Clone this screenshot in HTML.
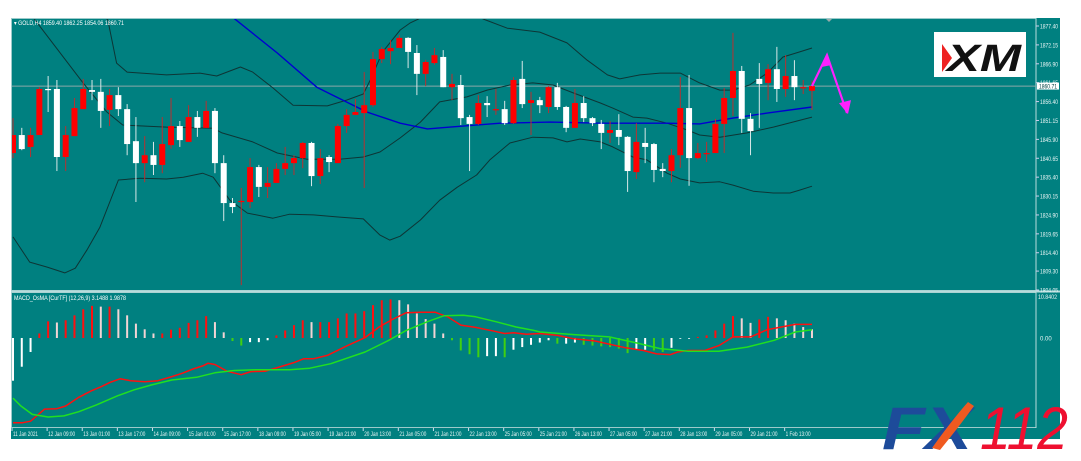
<!DOCTYPE html>
<html><head><meta charset="utf-8">
<style>
html,body{margin:0;padding:0;background:#fff;width:1081px;height:461px;overflow:hidden}
svg{position:absolute;left:0;top:0}
text{font-family:"Liberation Sans",sans-serif}
</style></head>
<body>
<svg id="chart" width="1081" height="461"></svg>
<script>
// ---- data ----
const candleOpen=[1842.1,1847.1,1843.8,1847.1,1859.9,1859.9,1841.0,1846.8,1854.3,1859.6,1859.1,1854.1,1858.2,1854.3,1845.4,1839.3,1841.5,1838.8,1844.3,1849.6,1845.2,1852.1,1849.1,1853.8,1839.3,1828.2,1828.5,1828.5,1838.2,1832.7,1833.8,1837.7,1839.3,1840.7,1844.9,1835.7,1841.0,1839.3,1849.6,1852.7,1853.2,1855.4,1868.2,1870.4,1871.3,1874.1,1869.9,1864.1,1867.1,1868.8,1860.4,1861.0,1852.1,1850.2,1856.0,1854.1,1854.3,1850.4,1862.7,1856.0,1856.8,1854.9,1860.4,1854.9,1849.1,1856.0,1851.8,1850.2,1847.7,1848.5,1846.6,1836.8,1844.9,1844.6,1837.7,1837.1,1841.5,1854.6,1840.7,1841.8,1842.1,1850.2,1857.4,1864.9,1851.6,1862.7,1861.6,1865.4,1859.9,1863.5,1860.3,1859.40];
const candleHigh=[1851.8,1849.1,1849.1,1860.4,1863.5,1862.4,1849.6,1857.4,1862.7,1862.4,1862.7,1859.9,1860.4,1855.7,1852.1,1846.8,1845.2,1852.1,1857.4,1851.0,1855.4,1853.8,1856.6,1854.6,1841.5,1829.6,1832.4,1840.7,1838.8,1838.2,1839.3,1843.8,1841.5,1845.2,1845.2,1843.2,1841.5,1850.2,1854.3,1857.1,1864.6,1870.2,1871.6,1873.5,1874.9,1874.3,1872.1,1868.0,1871.3,1870.7,1864.1,1863.8,1852.7,1858.2,1857.9,1859.9,1856.6,1863.2,1867.7,1859.1,1857.7,1860.7,1861.6,1855.2,1859.9,1857.9,1852.1,1851.3,1851.0,1852.9,1846.8,1850.4,1849.1,1844.9,1839.3,1843.2,1863.2,1863.8,1844.9,1845.2,1851.6,1860.2,1875.5,1866.3,1853.2,1867.1,1866.8,1871.6,1869.3,1867.9,1862.4,1862.25];
const candleLow=[1840.7,1842.9,1841.0,1847.1,1853.5,1837.1,1837.1,1846.8,1854.3,1856.8,1849.1,1849.6,1852.4,1841.5,1828.5,1834.0,1836.0,1836.5,1843.3,1843.8,1845.2,1846.6,1849.1,1836.5,1823.2,1825.4,1805.4,1826.8,1829.9,1829.6,1833.8,1836.0,1836.0,1837.9,1832.9,1833.5,1836.8,1839.3,1847.7,1852.7,1832.4,1854.9,1867.1,1866.8,1871.3,1865.7,1858.2,1860.7,1866.6,1860.4,1856.8,1849.9,1837.1,1849.9,1852.1,1852.7,1849.9,1850.2,1854.6,1847.1,1853.2,1853.2,1854.1,1847.9,1849.1,1850.7,1849.6,1843.2,1844.9,1844.3,1831.3,1834.9,1839.3,1834.0,1835.4,1834.0,1838.0,1833.0,1840.4,1839.6,1842.1,1842.1,1852.4,1847.7,1841.5,1849.1,1856.8,1856.3,1857.7,1856.8,1858.5,1854.06];
const candleClose=[1847.1,1843.2,1847.1,1859.9,1859.7,1841.0,1847.1,1854.6,1859.9,1859.1,1853.8,1858.2,1854.3,1844.6,1839.3,1841.5,1838.8,1844.6,1849.6,1845.7,1852.1,1849.1,1853.8,1839.3,1828.2,1827.1,1828.8,1838.2,1832.7,1833.8,1837.7,1839.3,1840.7,1844.9,1835.7,1840.7,1839.6,1849.6,1852.7,1853.5,1855.4,1868.2,1871.0,1871.3,1874.1,1870.2,1864.1,1867.4,1869.3,1860.4,1861.3,1851.8,1850.2,1856.0,1855.4,1854.3,1850.4,1862.4,1855.7,1856.8,1855.4,1860.4,1854.9,1849.1,1856.0,1851.8,1850.4,1847.7,1848.5,1846.6,1837.1,1845.2,1843.8,1837.4,1837.1,1841.5,1854.6,1840.7,1842.1,1842.1,1850.2,1857.4,1864.9,1851.6,1848.2,1861.3,1865.4,1859.9,1863.5,1860.4,1860.4,1860.71];

const upperIdx=[0,6,10.8,11.8,13.0,17.5,21.3,23.2,25.9,27.3,29.6,31.9,35.8,38.0,39.9,40.7,42.1,44.1,45.2,46.4,49.8,53.8,56.3,60.0,63.1,65.4,67.7,69.1,71.4,73.7,76.0,78.2,80.5,82.0,83.9,85.9,87.7,89.6,91];
const upperVal=[1901.3,1890.2,1879.1,1867.1,1864.6,1863.8,1864.3,1863.5,1866.0,1864.6,1860.2,1855.4,1855.2,1856.8,1858.5,1862.4,1870.2,1876.3,1878.2,1879.6,1883.2,1879.1,1876.8,1875.7,1872.7,1867.9,1863.8,1862.7,1863.8,1864.3,1864.3,1861.6,1859.6,1859.6,1861.0,1864.3,1868.8,1870.2,1871.3];
const midIdx=[0,2.5,7.9,10.7,12.5,17.5,22.8,23.8,27.3,30.1,33.5,37.2,39.9,41.8,44.1,46.4,48.6,51.7,54,56.6,59.2,61.5,63.8,66.9,68.3,70.6,72.2,74.5,76.8,78.2,80.5,83.6,86.6,88.8,91];
const midVal=[1886.0,1879.1,1861.8,1853.5,1849.9,1849.3,1849.0,1847.7,1845.2,1842.1,1840.4,1840.4,1841.0,1842.4,1846.3,1850.7,1856.3,1857.7,1859.6,1861.0,1861.6,1861.0,1858.8,1856.0,1854.6,1852.1,1851.8,1850.4,1848.5,1847.1,1846.5,1847.7,1849.3,1850.7,1852.1];
const lowerIdx=[0,1.9,3.9,5.9,7.1,8.4,9.9,12.0,14.5,17.5,19.4,21.6,22.8,24.7,26.7,29.6,31.5,34.2,37.2,39.9,41.8,42.9,44.1,46.4,48.6,50.6,52.8,54.3,56.6,59.2,61.5,63.1,64.6,66.9,68.3,70.6,72.2,74.5,76.0,78.2,80.5,82.0,84.3,86.6,88.5,89.6,91];
const lowerVal=[1818.8,1811.8,1810.4,1808.8,1810.1,1815.1,1821.5,1834.6,1835.1,1834.9,1835.4,1836.5,1835.4,1829.0,1825.4,1824.0,1825.1,1824.9,1824.3,1823.8,1819.3,1817.9,1819.0,1823.5,1829.0,1832.6,1836.0,1840.2,1844.9,1846.5,1846.3,1845.2,1846.0,1845.2,1843.8,1841.0,1840.2,1836.5,1834.9,1833.8,1834.1,1833.2,1831.5,1831.0,1831.0,1831.8,1832.9];
const maIdx=[20,25.3,30.1,34.6,36.4,40.3,44.1,47.2,49.8,55.5,61.2,66.9,74.5,78.2,82.0,85.9,91];
const maVal=[1890.2,1879.3,1869.9,1860.4,1858.2,1853.5,1850.4,1848.8,1849.3,1850.4,1850.7,1850.4,1850.4,1850.2,1851.8,1853.2,1854.9];

const histVal=[-11.3,-7.6,-3.7,1.2,4.4,4.1,4.7,6.0,7.6,8.5,8.3,8.3,7.6,6.0,3.8,2.3,1.2,1.2,2.2,2.7,4.0,4.7,5.8,4.2,1.5,-0.8,-2.0,-1.1,-1.1,-0.6,0.7,2.0,3.4,4.7,4.2,4.2,4.2,5.2,6.5,6.5,7.1,8.7,10.0,10.2,10.0,8.9,6.5,5.0,3.8,1.2,-0.6,-3.3,-4.3,-5.1,-4.8,-4.8,-5.1,-3.1,-2.4,-1.8,-1.2,-0.6,-1.5,-1.5,-1.2,-1.8,-2.0,-2.2,-2.4,-2.8,-4.0,-3.1,-3.1,-3.3,-3.7,-2.6,-0.2,-0.2,0.3,0.7,2.0,3.8,5.8,5.2,4.0,4.9,5.6,5.2,4.7,3.8,2.9,2.3];
const macdIdx=[0,1.1,2,3.6,5,6,7.5,8.9,10.1,11.1,12.2,13.4,15,16.5,18.1,19.3,20.5,21.7,22.2,23,24.4,26,27.1,28.7,30.3,31.9,33.1,34.2,35.8,38.1,40.1,41.7,43.2,44.8,46.4,48.1,49.5,51,52.7,54.6,56,57,58.5,60,62,63.9,66.3,69.8,71.8,73.3,74.9,75.7,76.9,78.8,80.4,82,84,85.9,87.5,89.1,91];
const macdVal=[-22.4,-22.4,-22.0,-18.8,-18.7,-18.0,-15.7,-14.0,-12.8,-11.7,-10.8,-11.3,-11.6,-11.3,-10.2,-9.3,-8.2,-7.3,-6.7,-7.0,-8.8,-9.7,-8.9,-8.8,-7.7,-6.6,-5.5,-5.5,-4.6,-2.0,0.1,2.9,4.9,6.7,6.8,6.8,5.6,3.4,2.8,1.9,1.2,1.4,1.0,1.2,0.7,-0.2,-0.8,-2.6,-3.3,-4.2,-4.4,-3.7,-3.3,-3.3,-2.0,0.3,0.3,2.2,2.9,3.6,3.6];
const signalIdx=[0,0.9,2.2,4,5.8,7.5,9.5,11.9,13.8,15.8,18.1,20.9,23,25.2,27.6,31.5,33.8,36.2,40.1,42.8,44.8,47.2,49.1,51.3,52.7,55,57.3,59.3,60,63.9,67.9,71,73.7,76.9,80.4,83.6,86.7,89.1,91];
const signalVal=[-15.9,-18.0,-20.2,-20.9,-20.6,-19.5,-17.7,-15.3,-13.7,-12.4,-11.1,-10.4,-9.2,-8.6,-8.4,-8.4,-8.0,-6.8,-3.7,-0.6,2.0,4.3,5.9,6.0,5.6,4.3,2.9,2.0,1.6,0.9,0.3,-1.3,-2.8,-3.5,-3.5,-2.4,-0.6,1.6,2.2];

const priceTicks=[1877.40,1872.15,1866.90,1861.65,1856.40,1851.15,1845.90,1840.65,1835.40,1830.15,1824.90,1819.65,1814.40,1809.30,1804.05];
const timeLabels=["11 Jan 2021","12 Jan 09:00","13 Jan 01:00","13 Jan 17:00","14 Jan 09:00","15 Jan 01:00","15 Jan 17:00","18 Jan 09:00","19 Jan 05:00","19 Jan 21:00","20 Jan 13:00","21 Jan 05:00","21 Jan 21:00","22 Jan 13:00","25 Jan 05:00","25 Jan 21:00","26 Jan 13:00","27 Jan 05:00","27 Jan 21:00","28 Jan 13:00","29 Jan 05:00","29 Jan 21:00","1 Feb 13:00"];
const lastPrice=1860.71;

// ---- scales ----
function xAt(i){return 13+i*8.78;}
function pY(p){return 26+(1877.40-p)*3.599;}
function mY(v){return 338-v*3.78;}

const NS="http://www.w3.org/2000/svg";
const svg=document.getElementById('chart');
function mk(tag,attrs,parent){const e=document.createElementNS(NS,tag);for(const k in attrs)e.setAttribute(k,attrs[k]);(parent||svg).appendChild(e);return e;}

// background
let e=mk('rect',{x:11,y:18,width:1049,height:421,fill:'#008080'});


mk('rect',{x:11.5,y:18.5,width:1024.5,height:272,fill:'none',stroke:'#9ccaca','stroke-width':1});
mk('rect',{x:11.5,y:292.5,width:1024.5,height:135,fill:'none',stroke:'#9ccaca','stroke-width':1});
mk('line',{x1:11,x2:1060,y1:291.5,y2:291.5,stroke:'#b8dcdc','stroke-width':2});
mk('line',{x1:1036,x2:1036,y1:18,y2:428,stroke:'#b8dcdc','stroke-width':1});

// clip paths
const defs=mk('defs',{});
const c1=mk('clipPath',{id:'mainClip'},defs);mk('rect',{x:12,y:19,width:1024,height:271},c1);
const c2=mk('clipPath',{id:'macdClip'},defs);mk('rect',{x:12,y:293,width:1024,height:134},c2);
const gMain=mk('g',{'clip-path':'url(#mainClip)'});


const gMacd=mk('g',{'clip-path':'url(#macdClip)'});



// current price line
e=mk('line',{x1:12,x2:1036,y1:pY(lastPrice),y2:pY(lastPrice),stroke:'#8aa8a8','stroke-width':1},gMain);



function poly(idx,val,yf,color,w,g,name){
  const pts=idx.map((i,k)=>xAt(i).toFixed(1)+','+yf(val[k]).toFixed(1)).join(' ');
  const p=mk('polyline',{points:pts,fill:'none',stroke:color,'stroke-width':w,'stroke-linejoin':'round'},g);
  
  
}
poly(upperIdx,upperVal,pY,'#0d3535',1,gMain,'bollinger-upper');
poly(midIdx,midVal,pY,'#0d3535',1,gMain,'bollinger-middle');
poly(lowerIdx,lowerVal,pY,'#0d3535',1,gMain,'bollinger-lower');
poly(maIdx,maVal,pY,'#0000d0',1.4,gMain,'moving-average');

// candles
for(let i=0;i<candleOpen.length;i++){
  const o=candleOpen[i],c=candleClose[i],h=candleHigh[i],l=candleLow[i];
  const up=c>=o;const x=xAt(i);
  const w=mk('line',{x1:x,x2:x,y1:pY(h),y2:pY(l),stroke:up?'#b83030':'#d8e8e8','stroke-width':1},gMain);
  
  
  const top=pY(Math.max(o,c)),bot=pY(Math.min(o,c));
  const b=mk('rect',{x:x-3,y:top,width:6,height:Math.max(1.2,bot-top),fill:up?'#ff0000':'#ffffff'},gMain);
  
  
}

// forecast arrows
const lx=xAt(candleClose.length-1),ly=pY(lastPrice);
e=mk('polyline',{points:`${lx},${ly} ${lx+15},${ly-31} ${lx+35},${ly+27}`,fill:'none',stroke:'#ff20ff','stroke-width':2.2},gMain);


e=mk('polygon',{points:`${lx+15},${ly-32} ${lx+9},${ly-19} ${lx+19},${ly-21}`,fill:'#ff20ff'},gMain);


e=mk('polygon',{points:`${lx+36},${ly+28} ${lx+27},${ly+17} ${lx+39},${ly+14}`,fill:'#ff20ff'},gMain);


mk('polygon',{points:'826,19 832,19 829,22',fill:'#9aa'});

// MACD histogram
for(let i=0;i<histVal.length;i++){
  const v=histVal[i],pv=i>0?histVal[i-1]:v;
  let col;
  if(v>=0)col=(v>=pv)?'#ff1010':'#f4d4d4';else col=(v<pv)?'#40d010':'#ffffff';
  const bx=xAt(i);
  const r=mk('line',{x1:bx,x2:bx,y1:mY(0),y2:mY(v),stroke:col,'stroke-width':2},gMacd);
  
  
}
poly(macdIdx,macdVal,mY,'#ff1010',1.5,gMacd,'macd-line');
poly(signalIdx,signalVal,mY,'#20e020',1.5,gMacd,'signal-line');

// price axis
priceTicks.forEach(p=>{
  const y=pY(p);
  mk('line',{x1:1036,x2:1039,y1:y,y2:y,stroke:'#cce',"stroke-width":1});
  const t=mk('text',{x:1040,y:y+2.5,'font-size':6,fill:'#e8f4f4',textLength:18,lengthAdjust:'spacingAndGlyphs'});t.textContent=p.toFixed(2);
  
  
});
e=mk('rect',{x:1037,y:pY(lastPrice)-3.5,width:22,height:7,fill:'#ffffff'});


e=mk('text',{x:1039,y:pY(lastPrice)+2.5,'font-size':6,fill:'#004040',textLength:18,lengthAdjust:'spacingAndGlyphs'});e.textContent=lastPrice.toFixed(2);


// macd axis
e=mk('text',{x:1038,y:299,'font-size':6,fill:'#e8f4f4',textLength:19,lengthAdjust:'spacingAndGlyphs'});e.textContent='10.8402';


e=mk('text',{x:1040,y:mY(0)+2.5,'font-size':6,fill:'#e8f4f4'});e.textContent='0.00';



// time axis
timeLabels.forEach((lab,k)=>{
  const x=xAt(k*4)-1;
  mk('line',{x1:x,x2:x,y1:428,y2:431,stroke:'#cde','stroke-width':1});
  const t=mk('text',{x:x+1,y:436,'font-size':6,fill:'#e8f4f4',textLength:lab.length>=12?27:25,lengthAdjust:'spacingAndGlyphs'});t.textContent=lab;
  
  
});

// headers
e=mk('text',{x:14,y:25,'font-size':6,fill:'#ffffff',textLength:110,lengthAdjust:'spacingAndGlyphs'});e.textContent='\u25BE GOLD,H4  1859.40 1862.25 1854.06 1860.71';


e=mk('text',{x:14,y:300,'font-size':6,fill:'#ffffff',textLength:112,lengthAdjust:'spacingAndGlyphs'});e.textContent='MACD_OsMA [CurTF] (12,26,9) 3.1488 1.9878';



// XM logo
const gxm=mk('g',{});


mk('rect',{x:934,y:32,width:92,height:45,fill:'#ffffff'},gxm);
mk('polygon',{points:'942,44 952,58 942,72',fill:'#ee2222'},gxm);
const xt=mk('text',{x:947,y:71,'font-size':38,'font-weight':'bold','font-style':'italic',fill:'#111',textLength:74,lengthAdjust:'spacingAndGlyphs'},gxm);xt.textContent='XM';

// FX112 logo
const gfx=mk('g',{});


const f1=mk('text',{x:882,y:449,'font-size':60,'font-weight':'bold','font-style':'italic',fill:'#1d4b9a',textLength:90,lengthAdjust:'spacingAndGlyphs'},gfx);f1.textContent='FX';
mk('path',{d:'M932,448 Q952,420 968,402 L974,406 Q958,428 940,450 Z',fill:'#f05a20'},gfx);
const f2=mk('text',{x:980,y:449,'font-size':60,'font-style':'italic',fill:'#ee1030',textLength:88,lengthAdjust:'spacingAndGlyphs'},gfx);f2.textContent='112';
</script>
</body></html>
